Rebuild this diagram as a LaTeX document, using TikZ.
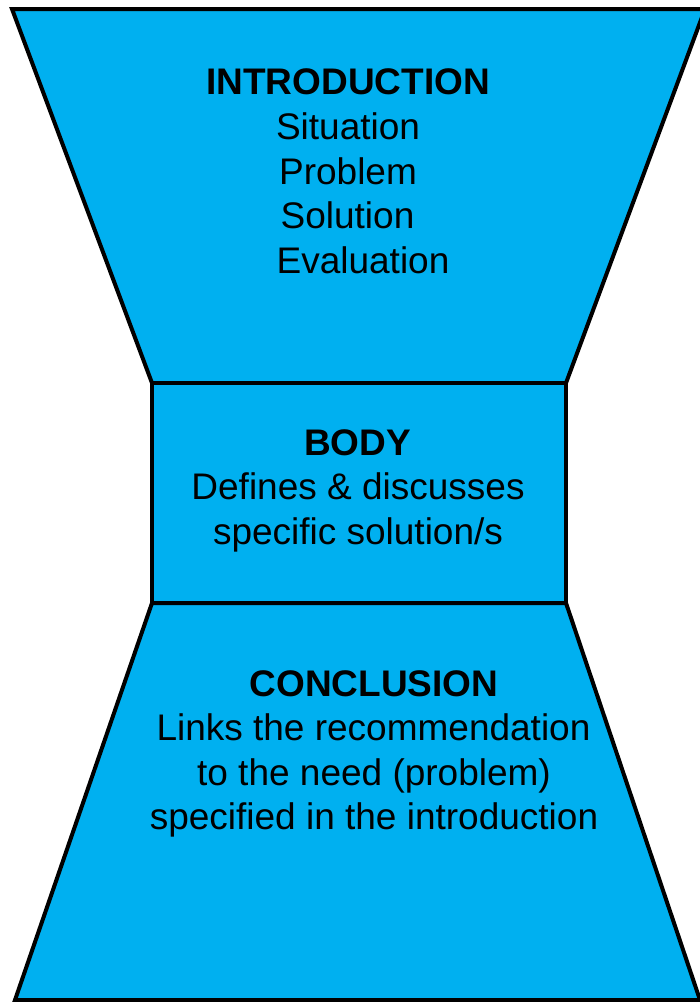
\documentclass[tikz,border=0pt]{standalone}
\usepackage{fontspec}
\setmainfont{Liberation Sans}
\definecolor{fillblue}{HTML}{00B0F0}
\begin{document}
\begin{tikzpicture}[x=1pt,y=-1pt,
  panel/.style={draw=black,fill=fillblue,line width=4pt,line join=miter},
  txt/.style={anchor=base,inner sep=0pt,font=\fontsize{37}{44}\selectfont},
  hdr/.style={txt,font=\fontsize{37}{44}\selectfont\bfseries}]
\useasboundingbox (0,0) rectangle (700,1002);
\draw[panel] (12,9) -- (705,9) -- (566,383) -- (152,383) -- cycle;
\draw[panel] (152,383) rectangle (566,603);
\draw[panel] (152,603) -- (566,603) -- (700,1000) -- (15,1000) -- cycle;
\node[hdr] (intro) at (348,94) {INTRODUCTION};
\node[txt] (sit) at (348,139.5) {Situation};
\node[txt] (prob) at (348,184) {Problem};
\node[txt] (sol) at (347.5,228.5) {Solution};
\node[txt] (eval) at (363,273) {Evaluation};
\node[hdr] (body) at (357.5,455) {BODY};
\node[txt] (def) at (358,499.5) {Defines \& discusses};
\node[txt] (spec) at (358,544) {specific solution/s};
\node[hdr] (conc) at (374,696) {CONCLUSION};
\node[txt] (links) at (373.5,740.5) {Links the recommendation};
\node[txt] (need) at (374,785) {to the need (problem)};
\node[txt] (specd) at (374,829.5) {specified in the introduction};
\end{tikzpicture}
\end{document}
